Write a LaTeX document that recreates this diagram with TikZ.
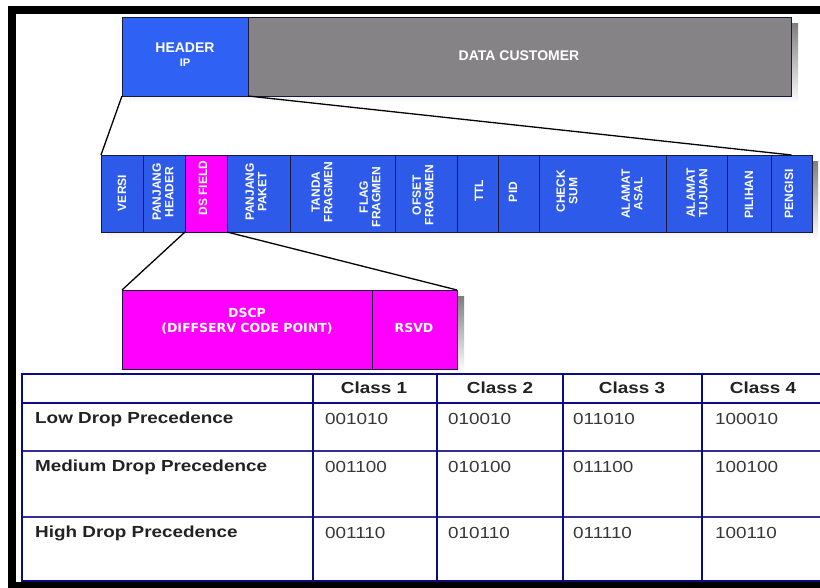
\documentclass[tikz,border=0pt]{standalone}
\usepackage{fontspec}
\setmainfont{Liberation Sans}
\newfontfamily\tabfont[FakeStretch=1.18]{Liberation Sans}
\newfontfamily\widefont{DejaVu Sans}
\definecolor{hblue}{HTML}{2F62F4}
\definecolor{fblue}{HTML}{2E5AEA}
\definecolor{dgray}{HTML}{858385}
\definecolor{shade}{HTML}{C4C4C4}
\definecolor{mag}{HTML}{FF00FF}
\definecolor{navy}{HTML}{0C0C82}
\definecolor{edge}{HTML}{1A1A40}
\definecolor{txt}{HTML}{222222}
\definecolor{valtxt}{HTML}{383838}
\begin{document}
\begin{tikzpicture}[x=1pt,y=-1pt,
  box/.style={draw=edge, line width=0.8pt, inner sep=0pt, outer sep=0pt},
  fieldbox/.style={box, fill=fblue, minimum height=77pt},
  dsbox/.style={box, fill=mag, minimum height=79pt},
  flabel/.style={text=white, font=\bfseries\fontsize{12}{12.5}\selectfont, rotate=90, align=center, inner sep=0pt},
  hlabel/.style={text=white, font=\bfseries\fontsize{14}{16}\selectfont, inner sep=0pt},
  dlabel/.style={text=white, font=\widefont\bfseries\fontsize{12.5}{15}\selectfont, inner sep=0pt, align=center},
  link/.style={draw=black, line width=1.3pt},
  gridline/.style={draw=navy, line width=2.4pt},
  rowline/.style={draw=navy!85, line width=1.2pt},
  headcell/.style={font=\tabfont\bfseries\fontsize{16}{18}\selectfont, text=txt, inner sep=0pt},
  rowcell/.style={font=\tabfont\bfseries\fontsize{16}{18}\selectfont, text=txt, inner sep=0pt, anchor=west},
  valcell/.style={font=\tabfont\fontsize{16}{18}\selectfont, text=valtxt, inner sep=0pt, anchor=west}]
\useasboundingbox (0,0) rectangle (820,588);
\fill[white] (0,0) rectangle (820,588);
% frame
\fill[black] (8,6) rectangle (820,14);
\fill[black] (8,6) rectangle (16,588);
\fill[black] (8,582) rectangle (820,588);
% shadows
\fill[shade] (129,24) rectangle (798,103);
\fill[shade] (107,162) rectangle (818,239);
\fill[shade] (129,297) rectangle (464,372);
% top packet
\node[box, fill=hblue, minimum width=126pt, minimum height=79pt] (hdr) at (185,56.5) {};
\node[box, fill=dgray, minimum width=543pt, minimum height=79pt] (data) at (519.5,56.5) {};
\node[hlabel] (hdrt) at (185,48) {HEADER};
\node[hlabel, font=\bfseries\fontsize{11}{12}\selectfont] (ipt) at (185,63) {IP};
\node[hlabel] (datat) at (519,56) {DATA CUSTOMER};
% header fields
\node[fieldbox, minimum width=42pt] (versi) at (122,193.5) {};
\node[fieldbox, minimum width=42pt] (phead) at (164,193.5) {};
\node[fieldbox, fill=mag, minimum width=42pt] (ds) at (206,193.5) {};
\node[fieldbox, minimum width=63pt] (ppaket) at (258.5,193.5) {};
\node[fieldbox, minimum width=105pt] (tanda) at (342.5,193.5) {};
\node[fieldbox, minimum width=62pt] (ofset) at (426,193.5) {};
\node[fieldbox, minimum width=41pt] (ttl) at (477.5,193.5) {};
\node[fieldbox, minimum width=41pt] (pid) at (518.5,193.5) {};
\node[fieldbox, minimum width=127pt] (check) at (602.5,193.5) {};
\node[fieldbox, minimum width=61pt] (tujuan) at (696.5,193.5) {};
\node[fieldbox, minimum width=44pt] (pilihan) at (749,193.5) {};
\node[fieldbox, minimum width=41pt] (pengisi) at (791.5,193.5) {};
\node[flabel] (t1) at (122,193) {VERSI};
\node[flabel] (t2) at (163,192) {PANJANG\\HEADER};
\node[flabel] (t3) at (203,188) {DS FIELD};
\node[flabel] (t4) at (256,192) {PANJANG\\PAKET};
\node[flabel] (t5) at (322,192) {TANDA\\FRAGMEN};
\node[flabel] (t6) at (370,197) {FLAG\\FRAGMEN};
\node[flabel] (t7) at (423,195) {OFSET\\FRAGMEN};
\node[flabel] (t8) at (479,191) {TTL};
\node[flabel] (t9) at (513,192) {PID};
\node[flabel] (t10) at (567,191) {CHECK\\SUM};
\node[flabel] (t11) at (632,194) {ALAMAT\\ASAL};
\node[flabel] (t12) at (697,193) {ALAMAT\\TUJUAN};
\node[flabel] (t13) at (749,195) {PILIHAN};
\node[flabel] (t14) at (789,194) {PENGISI};
% DS field expansion
\node[dsbox, minimum width=250pt] (dscp) at (247,329.5) {};
\node[dsbox, minimum width=85pt] (rsvd) at (414.5,329.5) {};
\node[dlabel] (dscpt) at (247,321) {DSCP\\(DIFFSERV CODE POINT)};
\node[dlabel] (rsvdt) at (414,328) {RSVD};
% connectors
\draw[link] (hdr.south west) -- (versi.north west);
\draw[link] (hdr.south east) -- (pengisi.north);
\draw[link] (ds.south west) -- (dscp.north west);
\draw[link] (ds.south east) -- (rsvd.north east);
% table
\draw[rowline] (22,451) -- (830,451);
\draw[rowline] (22,517) -- (830,517);
\draw[gridline] (22,403) -- (830,403);
\draw[gridline] (830,374) -- (22,374) -- (22,581) -- (830,581);
\draw[gridline] (313,374) -- (313,581);
\draw[gridline] (437,374) -- (437,581);
\draw[gridline] (563,374) -- (563,581);
\draw[gridline] (702,374) -- (702,581);
\node[headcell] (c1) at (374,388) {Class 1};
\node[headcell] (c2) at (500,388) {Class 2};
\node[headcell] (c3) at (632,388) {Class 3};
\node[headcell] (c4) at (763,388) {Class 4};
\node[rowcell] (r1) at (35,419) {Low Drop Precedence};
\node[rowcell] (r2) at (35,467) {Medium Drop Precedence};
\node[rowcell] (r3) at (35,533) {High Drop Precedence};
\node[valcell] (v11) at (325,419) {001010};
\node[valcell] (v12) at (448,419) {010010};
\node[valcell] (v13) at (573,419) {011010};
\node[valcell] (v14) at (715,419) {100010};
\node[valcell] (v21) at (325,467) {001100};
\node[valcell] (v22) at (448,467) {010100};
\node[valcell] (v23) at (573,467) {011100};
\node[valcell] (v24) at (715,467) {100100};
\node[valcell] (v31) at (325,533) {001110};
\node[valcell] (v32) at (448,533) {010110};
\node[valcell] (v33) at (573,533) {011110};
\node[valcell] (v34) at (715,533) {100110};
\end{tikzpicture}
\end{document}
